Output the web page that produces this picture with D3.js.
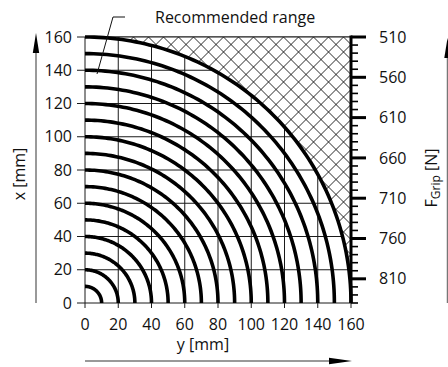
<!DOCTYPE html>
<html><head><meta charset="utf-8">
<script src="https://cdn.jsdelivr.net/npm/d3@7"></script>
<style>html,body{margin:0;padding:0;background:#fff;}svg{display:block;font-family:"Open Sans",sans-serif;}</style>
</head><body>
<script>
// Data
const radii = [10,20,30,40,50,60,70,80,90,100,110,120,130,140,150,160];
const xTicks = [0,20,40,60,80,100,120,140,160];
const yTicks = [0,20,40,60,80,100,120,140,160];
const forceMajor = [510,560,610,660,710,760,810];
const forceMinor = d3.range(510, 841, 10);
const forceDomain = [510, 840];
const labels = {x: "x [mm]", y: "y [mm]", f: "F", fSub: "Grip", fUnit: " [N]", note: "Recommended range"};

const W = 448, H = 367;
const svg = d3.select("body").append("svg").attr("width", W).attr("height", H);

const x = d3.scaleLinear([0,160],[85,351]);
const y = d3.scaleLinear([0,160],[303,37]);
const f = d3.scaleLinear(forceDomain,[37,303]);

// grid
const grid = svg.append("g").attr("stroke","#1a1a1a").attr("stroke-width",1);
xTicks.forEach(v => grid.append("line").attr("x1",x(v)).attr("x2",x(v)).attr("y1",y(160)).attr("y2",y(0)+5));
yTicks.forEach(v => grid.append("line").attr("x1",x(0)-8).attr("x2",x(160)).attr("y1",y(v)).attr("y2",y(v)));

// hatch region (outside the recommended range)
const defs = svg.append("defs");
const R = d3.max(radii);
const rpx = x(R) - x(0);
const hatchD = `M${x(0)},${y(R)} A${rpx},${rpx} 0 0 1 ${x(R)},${y(0)} L${x(R)},${y(R)} Z`;
defs.append("clipPath").attr("id","hatchClip").append("path").attr("d", hatchD);
svg.append("path").attr("d", hatchD).attr("fill","#fff");
const hg = svg.append("g").attr("clip-path","url(#hatchClip)")
  .attr("stroke","#111").attr("stroke-width",0.9).attr("fill","none");
const step = 15, ax = x(160), ay = y(160) + 7.5;
for (let k = -40; k <= 40; k++) {
  const c = ax + k*step;
  hg.append("line").attr("x1", c - 300).attr("y1", ay - 300).attr("x2", c + 300).attr("y2", ay + 300);
  hg.append("line").attr("x1", c - 300).attr("y1", ay + 300).attr("x2", c + 300).attr("y2", ay - 300);
}
svg.append("line").attr("x1",x(0)).attr("x2",x(160)).attr("y1",y(160)).attr("y2",y(160)).attr("stroke","#1a1a1a").attr("stroke-width",1);

// arcs
const arcLine = d3.line().x(d => x(d[0])).y(d => y(d[1]));
const ag = svg.append("g").attr("fill","none").attr("stroke","#000").attr("stroke-width",3.6);
radii.forEach(r => {
  const pts = d3.range(0, 91, 1).map(a => [r*Math.sin(a*Math.PI/180), r*Math.cos(a*Math.PI/180)]);
  ag.append("path").attr("d", arcLine(pts));
});

// right force axis
const fg = svg.append("g").attr("stroke","#000");
fg.append("line").attr("x1",x(160)).attr("x2",x(160)).attr("y1",f(forceDomain[0])-1.5).attr("y2",f(forceDomain[1])).attr("stroke-width",3);
forceMinor.forEach(v => { if (!forceMajor.includes(v)) fg.append("line").attr("x1",x(160)).attr("x2",x(160)+7).attr("y1",f(v)).attr("y2",f(v)).attr("stroke-width",1.6); });
forceMajor.forEach(v => fg.append("line").attr("x1",x(160)).attr("x2",x(160)+15).attr("y1",f(v)).attr("y2",f(v)).attr("stroke-width",3));

const txt = svg.append("g").attr("fill","#111").attr("font-size",16);
forceMajor.forEach(v => txt.append("text").attr("x",379).attr("y",f(v)).attr("dy","0.35em").text(v));
yTicks.forEach(v => txt.append("text").attr("x",72).attr("y",y(v)).attr("dy","0.35em").attr("text-anchor","end").text(v));
xTicks.forEach(v => txt.append("text").attr("x",x(v)).attr("y",324).attr("dy","0.35em").attr("text-anchor","middle").text(v));

// axis titles
txt.append("text").attr("transform","translate(25,174) rotate(-90)").attr("text-anchor","middle").text(labels.x);
txt.append("text").attr("x",203).attr("y",350).attr("text-anchor","middle").text(labels.y);
const ft = txt.append("text").attr("transform","translate(437,178) rotate(-90)").attr("text-anchor","middle");
ft.append("tspan").text(labels.f);
ft.append("tspan").attr("font-size",12).attr("dy",3).text(labels.fSub);
ft.append("tspan").attr("dy",-3).text(labels.fUnit);

// note
txt.append("text").attr("x",155).attr("y",23).text(labels.note);
svg.append("path").attr("d","M125,17 L113,17 L97,74").attr("fill","none").attr("stroke","#111").attr("stroke-width",1);

// arrows
const arr = svg.append("g");
arr.append("line").attr("x1",36).attr("x2",36).attr("y1",y(0)).attr("y2",50).attr("stroke","#777").attr("stroke-width",1.5);
arr.append("path").attr("d","M36,33 L32.8,53 L39.2,53 Z").attr("fill","#000");
arr.append("line").attr("x1",x(0)).attr("x2",332).attr("y1",361).attr("y2",361).attr("stroke","#777").attr("stroke-width",1.5);
arr.append("path").attr("d","M352,361 L329,357.8 L329,364.2 Z").attr("fill","#000");
arr.append("line").attr("x1",447.5).attr("x2",447.5).attr("y1",y(0)).attr("y2",55).attr("stroke","#777").attr("stroke-width",1.5);
arr.append("path").attr("d","M447.5,38 L444.3,58 L450.7,58 Z").attr("fill","#000");
</script>
</body></html>
